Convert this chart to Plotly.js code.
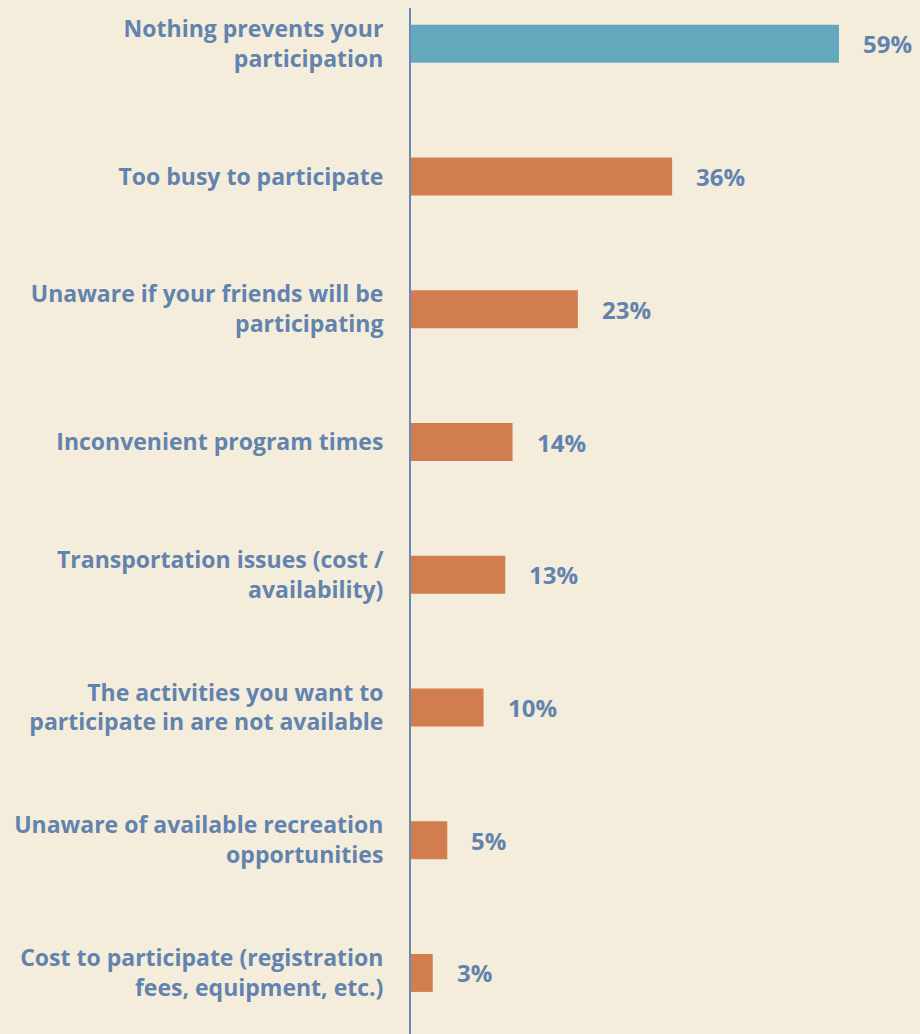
<!DOCTYPE html>
<html><head><meta charset="utf-8">
<script src="https://cdn.plot.ly/plotly-3.0.1.min.js"></script>
<style>html,body{margin:0;padding:0;background:#F5EDDC;}</style>
</head><body>
<div id="chart" style="width:920px;height:1034px;"></div>
<script>
const categories = [
  "Nothing prevents your<br>participation",
  "Too busy to participate",
  "Unaware if your friends will be<br>participating",
  "Inconvenient program times",
  "Transportation issues (cost /<br>availability)",
  "The activities you want to<br>participate in are not available",
  "Unaware of available recreation<br>opportunities",
  "Cost to participate (registration<br>fees, equipment, etc.)"
];
const values = [59, 36, 23, 14, 13, 10, 5, 3];
const valueLabels = ["59%", "36%", "23%", "14%", "13%", "10%", "5%", "3%"];
const barColors = ["#64A8BE", "#D27D50", "#D27D50", "#D27D50", "#D27D50", "#D27D50", "#D27D50", "#D27D50"];

const fontFam = "Open Sans, sans-serif";
const textColor = "#6283AE";

const trace = {
  type: 'bar', orientation: 'h',
  x: values, y: categories,
  marker: {color: barColors},
  width: 0.286,
  hoverinfo: 'none'
};
const annotations = values.map((v, i) => ({
  x: v, y: categories[i], xref: 'x', yref: 'y',
  text: '<b>' + valueLabels[i] + '</b>', showarrow: false,
  xanchor: 'left', xshift: 22,
  font: {family: fontFam, size: 24, color: textColor}
}));
const layout = {
  width: 920, height: 1034,
  margin: {l: 411, r: 0, t: 8, b: 0},
  paper_bgcolor: '#F5EDDC', plot_bgcolor: '#F5EDDC',
  showlegend: false,
  xaxis: {range: [0, 70.17], visible: false, fixedrange: true},
  yaxis: {
    type: 'category', range: [7.46, -0.27],
    showline: true, linecolor: '#6A8AB5', linewidth: 2,
    showgrid: false, zeroline: false, ticks: '', ticklabelstandoff: 21,
    tickfont: {family: fontFam, size: 23, color: textColor, weight: 'bold'}
  },
  annotations: annotations
};
Plotly.newPlot('chart', [trace], layout, {displayModeBar: false, staticPlot: true});
</script>
</body></html>
